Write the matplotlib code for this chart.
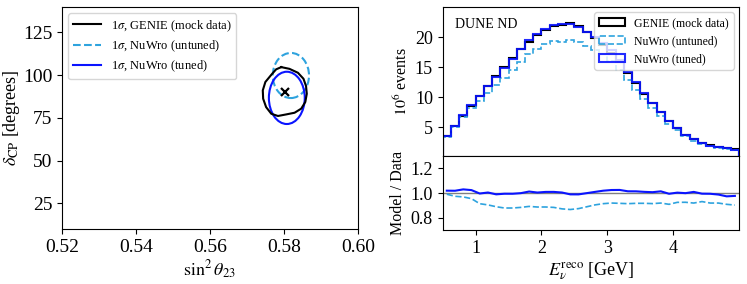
import numpy as np
import matplotlib
matplotlib.use("Agg")
import matplotlib.pyplot as plt
from matplotlib.patches import Ellipse

plt.rcParams['font.family'] = ['Liberation Serif', 'DejaVu Serif']
plt.rcParams['mathtext.fontset'] = 'stix'
plt.rcParams['font.size'] = 11

# ---------------- data ----------------
# Left panel: 1 sigma contours in (sin^2 theta23, delta_CP)
genie_contour_x = [0.5793, 0.5815, 0.5838, 0.5853, 0.5860, 0.5862, 0.5858, 0.5847, 0.5829,
                   0.5806, 0.5784, 0.5766, 0.5752, 0.5744, 0.5743, 0.5750, 0.5766, 0.5779]
genie_contour_y = [104.7, 103.7, 101.4, 97.9, 93.6, 89.1, 84.3, 80.4, 78.0,
                   77.0, 76.1, 77.4, 81.3, 86.2, 91.1, 96.0, 100.2, 103.4]
untuned_center = (0.5819, 99.8)
untuned_size = (0.0098, 26.4)
tuned_center = (0.5808, 86.7)
tuned_size = (0.0097, 30.6)
true_point = (0.5803, 90.0)

# Right panel: reconstructed neutrino energy histogram (10^6 events)
bin_edges = np.arange(0.5, 5.0001, 0.125)
genie = [3.5, 5.15, 6.9, 8.55, 10.2, 11.8, 13.5, 15.0, 16.5, 18.0, 19.25, 20.35,
         21.2, 21.8, 22.05, 22.4, 21.85, 20.8, 19.8, 18.7, 17.4, 15.8, 14.0, 12.3,
         10.6, 9.0, 7.5, 6.1, 4.85, 3.8, 3.0, 2.35, 2.0, 1.75, 1.55, 1.35]
nuwro_untuned = [3.47, 5.02, 6.69, 8.17, 9.33, 10.68, 12.02, 13.2, 14.52, 15.93, 17.19, 18.07,
                 18.83, 19.29, 19.25, 19.44, 19.12, 18.51, 17.92, 17.11, 16.01, 14.50, 12.81, 11.29,
                 9.73, 8.24, 6.90, 5.55, 4.49, 3.52, 2.76, 2.19, 1.84, 1.61, 1.41, 1.22]
nuwro_tuned = [3.57, 5.25, 7.11, 8.76, 10.17, 11.86, 13.37, 14.93, 16.42, 18.0, 19.50, 20.45,
               21.41, 22.02, 22.16, 22.18, 21.63, 20.8, 20.0, 19.07, 17.84, 16.21, 14.21, 12.48,
               10.71, 9.07, 7.61, 6.07, 4.87, 3.8, 3.03, 2.34, 1.99, 1.73, 1.51, 1.32]

c_black = 'black'
c_untuned = '#2ea3de'
c_tuned = '#0a14ff'

fig = plt.figure(figsize=(7.47, 2.84), dpi=100)

# ---------------- left panel ----------------
axL = fig.add_axes([0.083, 0.194, 0.396, 0.782])
gx = list(genie_contour_x) + [genie_contour_x[0]]
gy = list(genie_contour_y) + [genie_contour_y[0]]
axL.plot(gx, gy, color=c_black, lw=1.5, label=r'1$\sigma$, GENIE (mock data)')
e1 = Ellipse(untuned_center, untuned_size[0], untuned_size[1], fill=False,
             edgecolor=c_untuned, lw=1.5, ls='--')
axL.add_patch(e1)
e2 = Ellipse(tuned_center, tuned_size[0], tuned_size[1], fill=False,
             edgecolor=c_tuned, lw=1.5)
axL.add_patch(e2)
axL.plot([], [], color=c_untuned, lw=1.5, ls='--', label=r'1$\sigma$, NuWro (untuned)')
axL.plot([], [], color=c_tuned, lw=1.5, label=r'1$\sigma$, NuWro (tuned)')
axL.plot([true_point[0]], [true_point[1]], marker='x', color='black', ms=6, mew=1.6, ls='none')
axL.set_xlim(0.52, 0.60)
axL.set_ylim(10, 140)
axL.set_xticks([0.52, 0.54, 0.56, 0.58, 0.60])
axL.set_yticks([25, 50, 75, 100, 125])
axL.tick_params(labelsize=14)
axL.set_xlabel(r'$\sin^2\theta_{23}$', labelpad=2, fontsize=13)
axL.set_ylabel(r'$\delta_{\rm CP}$ [degrees]', labelpad=1, fontsize=13)
axL.legend(loc='upper left', fontsize=9, handlelength=2.2, labelspacing=0.4)

# ---------------- right panels ----------------
axT = fig.add_axes([0.5926, 0.4507, 0.3967, 0.5247])
axR = fig.add_axes([0.5926, 0.1891, 0.3967, 0.2616], sharex=axT)

centers = 0.5 * (bin_edges[:-1] + bin_edges[1:])
axT.hist(centers, bins=bin_edges, weights=genie, histtype='step', color=c_black, lw=1.5,
         label='GENIE (mock data)')
axT.hist(centers, bins=bin_edges, weights=nuwro_untuned, histtype='step', color=c_untuned,
         lw=1.2, ls='--', label='NuWro (untuned)')
axT.hist(centers, bins=bin_edges, weights=nuwro_tuned, histtype='step', color=c_tuned,
         lw=1.5, alpha=0.9, label='NuWro (tuned)')
axT.set_ylim(0.25, 25)
axT.set_yticks([5, 10, 15, 20])
axT.tick_params(labelsize=13)
axT.set_ylabel(r'$10^6$ events', labelpad=3, fontsize=11.5)
axT.tick_params(labelbottom=False)
axT.text(0.04, 0.88, 'DUNE ND', transform=axT.transAxes, fontsize=10, va='center')
axT.legend(loc='upper right', fontsize=8.5, handlelength=2.2, borderaxespad=0.45)

g = np.array(genie)
axR.axhline(1.0, color='grey', lw=1)
axR.plot(centers, np.array(nuwro_untuned) / g, color=c_untuned, lw=1.2, ls='--')
axR.plot(centers, np.array(nuwro_tuned) / g, color=c_tuned, lw=1.5)
axR.set_xlim(0.5, 5.0)
axR.set_ylim(0.7, 1.3)
axR.set_yticks([0.8, 1.0, 1.2])
axR.set_xticks([1, 2, 3, 4])
axR.tick_params(labelsize=13)
axR.set_ylabel('Model / Data', labelpad=3, fontsize=11.5)
axR.set_xlabel(r'$E_\nu^{\rm reco}$ [GeV]', labelpad=2, fontsize=13)

fig.savefig('out.png', dpi=100)
